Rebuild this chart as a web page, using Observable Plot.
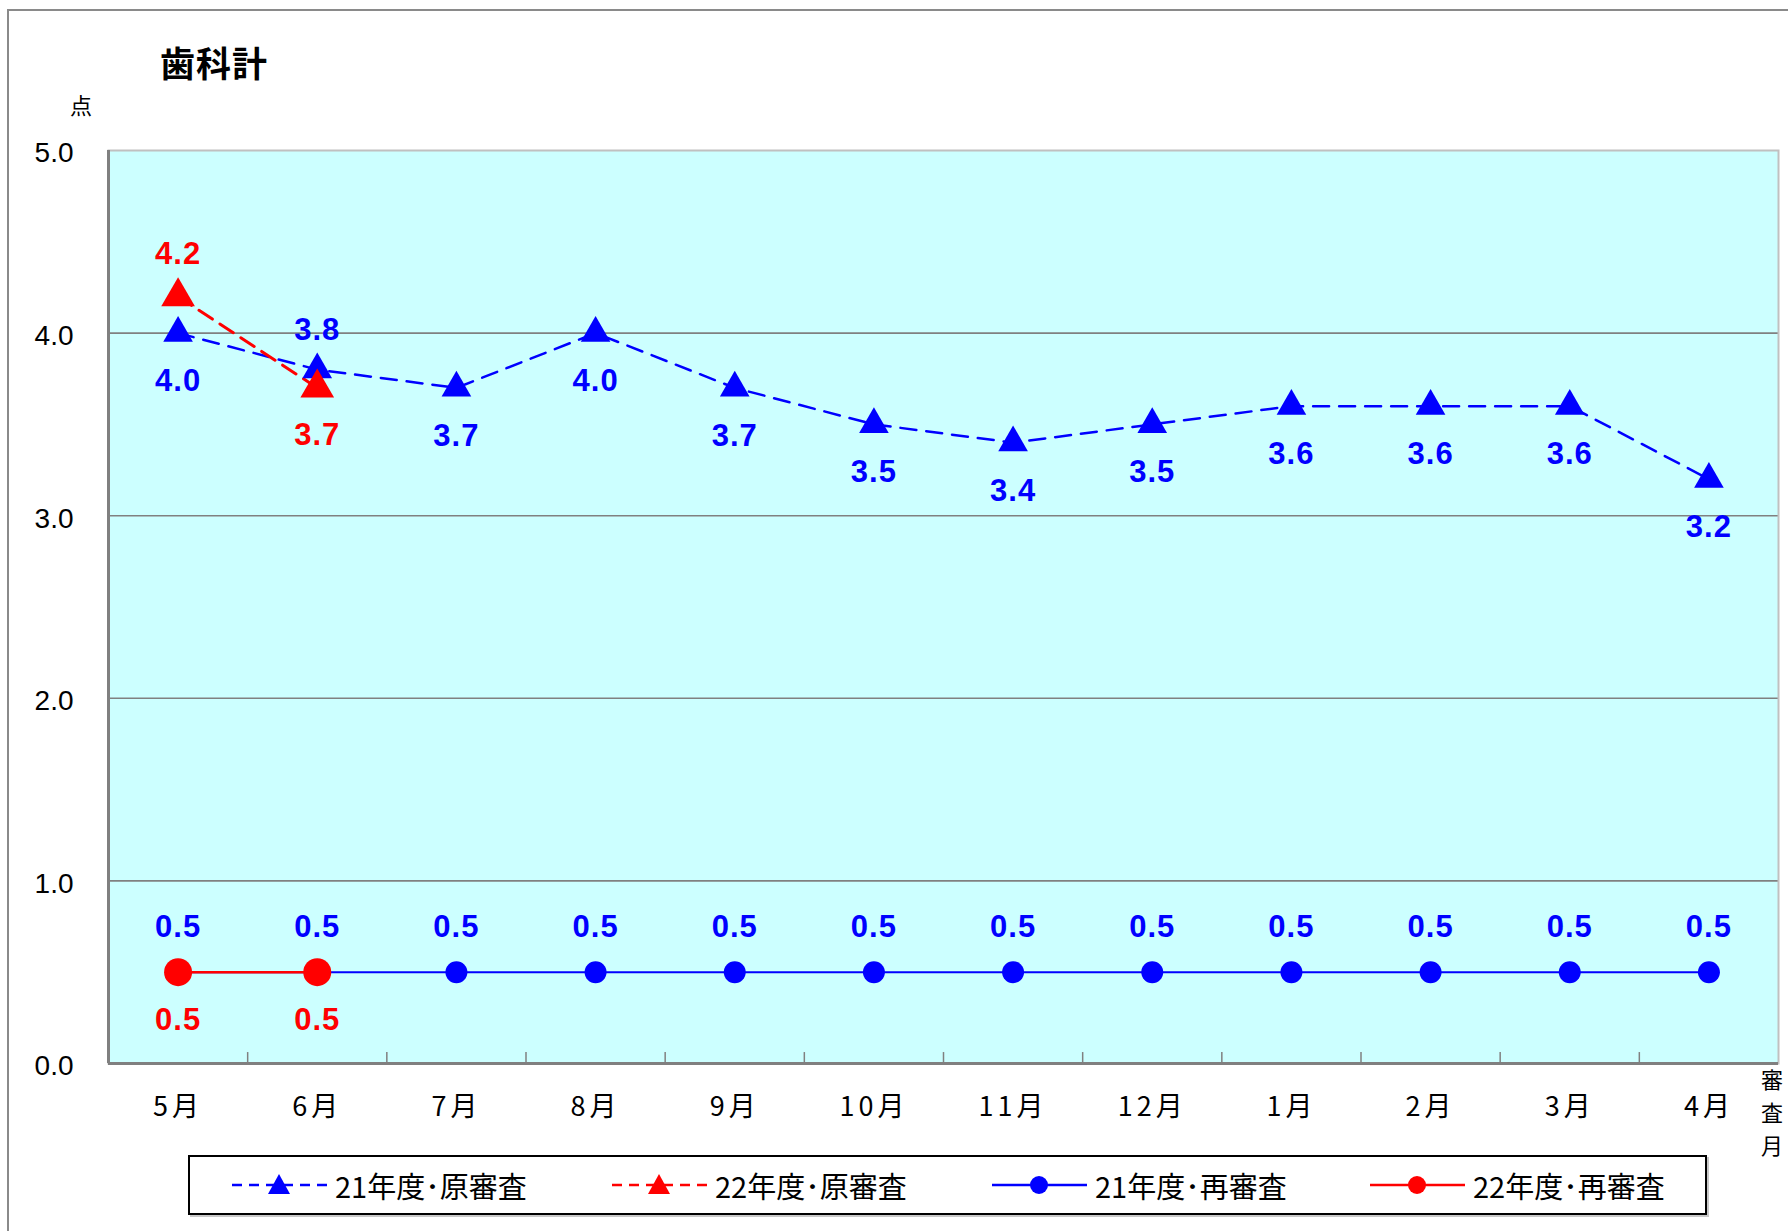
<!DOCTYPE html>
<html><head><meta charset="utf-8">
<script src="https://cdn.jsdelivr.net/npm/d3@7"></script>
<script src="https://cdn.jsdelivr.net/npm/@observablehq/plot@0.6"></script>
<style>
body{margin:0;background:#fff;}
#wrap{position:relative;width:1788px;height:1231px;overflow:hidden;font-family:"Noto Sans CJK JP","Noto Sans",sans-serif;color:#000;}
#chart{position:absolute;left:0;top:0;}
#frame{position:absolute;left:7px;top:9px;width:1800px;height:1300px;border:2px solid #8a8a8a;box-sizing:border-box;pointer-events:none;}
#title{position:absolute;left:160px;top:44px;font-size:35px;font-weight:bold;line-height:1;letter-spacing:1px;}
#unit{position:absolute;left:70px;top:93px;font-size:22px;line-height:1;}
#xunit{position:absolute;left:1761px;top:1062px;font-size:22px;line-height:33px;width:26px;}
#legend{position:absolute;left:188px;top:1155px;width:1519px;height:60px;border:2px solid #000;box-sizing:border-box;background:#fff;box-shadow:2px 2px 0 #c8c8c8;}
#legend .item{position:absolute;top:0;height:100%;display:flex;align-items:center;}
#legend .item span{font-size:29px;margin-left:8px;white-space:nowrap;}
</style>
</head><body>
<div id="wrap">
  <div id="chart"></div>
  <div id="frame"></div>
  <div id="title">歯科計</div>
  <div id="unit">点</div>
  <div id="xunit">審<br>査<br>月</div>
  <div id="legend"></div>
</div>
<script>
const months = ["5月","6月","7月","8月","9月","10月","11月","12月","1月","2月","3月","4月"];
const orig21 = [4.0,3.8,3.7,4.0,3.7,3.5,3.4,3.5,3.6,3.6,3.6,3.2];
const orig22 = [4.2,3.7];
const re21 = [0.5,0.5,0.5,0.5,0.5,0.5,0.5,0.5,0.5,0.5,0.5,0.5];
const re22 = [0.5,0.5];
const yTicks = [0,1,2,3,4,5];
const seriesNames = ["21年度･原審査","22年度･原審査","21年度･再審査","22年度･再審査"];

const BLUE = "#0000ff", RED = "#ff0000";
const toRows = arr => arr.map((v,i) => ({i, v}));
const rO21 = toRows(orig21), rO22 = toRows(orig22), rR21 = toRows(re21), rR22 = toRows(re22);
const boundaries = d3.range(months.length - 1).map(i => i + 0.5);
const labelFont = "Liberation Sans, Arial, sans-serif";
const lab = {fontSize: 31, fontWeight: "bold", fontFamily: labelFont};

const plot = Plot.plot({
  width: 1788,
  height: 1231,
  marginLeft: 108,
  marginTop: 150,
  marginRight: 10,
  marginBottom: 168,
  style: {background: "transparent", fontFamily: "Noto Sans CJK JP, sans-serif", color: "#000"},
  x: {type: "linear", domain: [-0.5, months.length - 0.5], label: null},
  y: {domain: [0, 5], label: null},
  marks: [
    Plot.frame({fill: "#ccffff", stroke: null}),
    Plot.ruleY([1,2,3,4], {stroke: "#808080", strokeWidth: 1.6}),
    Plot.frame({stroke: "#c0c0c0", strokeWidth: 2}),
    Plot.ruleY([0], {stroke: "#808080", strokeWidth: 3}),
    Plot.ruleX([-0.5], {stroke: "#808080", strokeWidth: 3}),
    Plot.ruleX(boundaries, {y1: 0, y2: 0.06, stroke: "#808080", strokeWidth: 1.5}),
    Plot.axisY({ticks: yTicks, tickFormat: d3.format(".1f"), tickSize: 0, tickPadding: 35, fontSize: 28, fontFamily: labelFont, dy: 3, label: null}),
    Plot.axisX({ticks: d3.range(months.length), tickFormat: i => months[i], tickSize: 0, tickPadding: 33, fontSize: 27, label: null}),
    // 再審査 lines
    Plot.line(rR21, {x: "i", y: "v", stroke: BLUE, strokeWidth: 2}),
    Plot.line(rR22, {x: "i", y: "v", stroke: RED, strokeWidth: 2.5}),
    // 原審査 lines
    Plot.line(rO21, {x: "i", y: "v", stroke: BLUE, strokeWidth: 2.5, strokeDasharray: "16,10"}),
    Plot.line(rO22, {x: "i", y: "v", stroke: RED, strokeWidth: 3, strokeDasharray: "16,9"}),
    // markers
    Plot.dot(rR21, {x: "i", y: "v", r: 11, fill: BLUE}),
    Plot.dot(rR22, {x: "i", y: "v", r: 14, fill: RED}),
    Plot.dot(rO21, {x: "i", y: "v", r: 11, symbol: "triangle", fill: BLUE}),
    Plot.dot(rO22, {x: "i", y: "v", r: 12.5, symbol: "triangle", fill: RED}),
    // labels
    Plot.text(rO21.filter(d => d.i === 1), {x: "i", y: "v", text: d => d.v.toFixed(1), dy: -40, fill: BLUE, ...lab}),
    Plot.text(rO21.filter(d => d.i !== 1), {x: "i", y: "v", text: d => d.v.toFixed(1), dy: 48, fill: BLUE, ...lab}),
    Plot.text(rO22.filter(d => d.i === 0), {x: "i", y: "v", text: d => d.v.toFixed(1), dy: -43, fill: RED, ...lab}),
    Plot.text(rO22.filter(d => d.i !== 0), {x: "i", y: "v", text: d => d.v.toFixed(1), dy: 47, fill: RED, ...lab}),
    Plot.text(rR21, {x: "i", y: "v", text: d => d.v.toFixed(1), dy: -45, fill: BLUE, ...lab}),
    Plot.text(rR22, {x: "i", y: "v", text: d => d.v.toFixed(1), dy: 48, fill: RED, ...lab})
  ]
});
document.getElementById("chart").appendChild(plot);
d3.select(plot).selectAll("g[aria-label='text'] text").style("letter-spacing", "1px").style("font-weight", "600");
d3.select(plot).selectAll("g[aria-label='x-axis tick label'] text").style("letter-spacing", "4px");

// legend
const legendDefs = [
  {name: seriesNames[0], color: BLUE, dash: "10,7", sym: "tri"},
  {name: seriesNames[1], color: RED, dash: "10,7", sym: "tri"},
  {name: seriesNames[2], color: BLUE, dash: null, sym: "dot"},
  {name: seriesNames[3], color: RED, dash: null, sym: "dot"}
];
const lefts = [42, 422, 802, 1180];
const leg = d3.select("#legend");
legendDefs.forEach((d, k) => {
  const item = leg.append("div").attr("class", "item").style("left", lefts[k] + "px");
  const svg = item.append("svg").attr("width", 95).attr("height", 40);
  svg.append("line").attr("x1", 0).attr("x2", 95).attr("y1", 20).attr("y2", 20)
    .attr("stroke", d.color).attr("stroke-width", 2.5).attr("stroke-dasharray", d.dash);
  if (d.sym === "tri") svg.append("path").attr("d", "M47,9L58,29L36,29Z").attr("fill", d.color);
  else svg.append("circle").attr("cx", 47).attr("cy", 20).attr("r", 9).attr("fill", d.color);
  item.append("span").text(d.name);
});
</script>
</body></html>
